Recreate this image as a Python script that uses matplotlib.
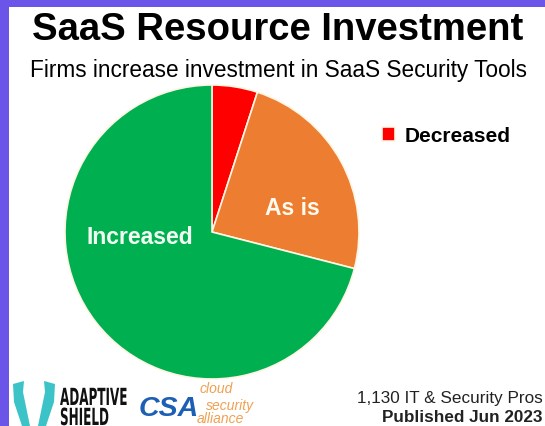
import numpy as np
import matplotlib
matplotlib.use('Agg')
import matplotlib.pyplot as plt
from matplotlib.patches import Rectangle, Polygon, PathPatch
from matplotlib.textpath import TextPath
from matplotlib.font_manager import FontProperties
from matplotlib.transforms import Affine2D

# Survey answers (share of respondents, %)
categories = ['Decreased', 'As is', 'Increased']
shares = [5, 24, 71]
colors = ['#ff0000', '#ed7d31', '#00b050']

plt.rcParams['font.family'] = ['Liberation Sans', 'DejaVu Sans']

W, H = 545, 426
fig = plt.figure(figsize=(W / 100, H / 100), dpi=100)
fig.patch.set_facecolor('white')

# purple frame on left and top edges
fig.add_artist(Rectangle((0, 0), 9 / W, 1, transform=fig.transFigure,
                         color='#6a55e8', lw=0))
fig.add_artist(Rectangle((0, 1 - 7 / H), 1, 7 / H, transform=fig.transFigure,
                         color='#6a55e8', lw=0))

# pie: centre (212, 232) px, radius 147 px
cx, cy, r = 212, 232, 147
ax = fig.add_axes([(cx - r) / W, (H - cy - r) / H, 2 * r / W, 2 * r / H])
wedges, _ = ax.pie(shares, colors=colors, startangle=90, counterclock=False,
                   wedgeprops=dict(edgecolor='#fdf6e3', linewidth=1.2))
ax.set_xlim(-1, 1)
ax.set_ylim(-1, 1)
ax.set_aspect('equal')

ax.text(0.55, 0.16, 'As is', color='#fffbee', fontsize=16.5, fontweight='bold',
        ha='center', va='center')
ax.text(-0.49, -0.04, 'Increased', color='#f4fff4', fontsize=16.5, fontweight='bold',
        ha='center', va='center')

fig.legend([wedges[0]], [categories[0]], loc='center left',
           bbox_to_anchor=(372 / W, 1 - 136 / H), frameon=False,
           prop=dict(size=15, weight='bold'), handlelength=0.62,
           handleheight=0.62, handletextpad=0.45, borderpad=0)

# titles
fig.text(278 / W, 1 - 30 / H, 'SaaS Resource Investment', ha='center', va='center',
         fontsize=27.5, fontweight='bold', color='black')
fig.text(278 / W, 1 - 70 / H, 'Firms increase investment in SaaS Security Tools',
         ha='center', va='center', fontsize=16.3, color='black')

# footer
fig.text(543 / W, 1 - 398 / H, '1,130 IT & Security Pros', ha='right', va='center',
         fontsize=12.3, color='#222222')
fig.text(543 / W, 1 - 417 / H, 'Published Jun 2023', ha='right', va='center',
         fontsize=12.3, fontweight='bold', color='#222222')

# logos (approximate)
teal = '#3cc3c8'
lb = [(13, 384), (24, 381), (23, 392), (30, 426), (22, 426), (14, 402)]
rb = [(55, 384), (44, 381), (45, 392), (38, 426), (46, 426), (54, 402)]
for pts in (lb, rb):
    fig.add_artist(Polygon([(x / W, 1 - y / H) for x, y in pts],
                           transform=fig.transFigure, color=teal, lw=0))

bold_fp = FontProperties(family='DejaVu Sans', weight='bold')
for word, y0 in (('ADAPTIVE', 405), ('SHIELD', 425)):
    tp = TextPath((0, 0), word, size=20, prop=bold_fp)
    # squeeze the glyphs horizontally to look like a condensed logo face
    t = (Affine2D().scale(0.6, 1.18).scale(1 / W, 1 / H)
         .translate(60 / W, 1 - y0 / H) + fig.transFigure)
    fig.add_artist(PathPatch(tp, transform=t, color='#111111', lw=0))

fig.text(139 / W, 1 - 409 / H, 'CSA', fontsize=20.5, fontweight='bold',
         style='italic', va='center', ha='left', color='#1d5fb4')
fig.text(200 / W, 1 - 389 / H, 'cloud', fontsize=10, style='italic',
         va='center', ha='left', color='#f0a050')
fig.text(206 / W, 1 - 406 / H, 'security', fontsize=10, style='italic',
         va='center', ha='left', color='#f0a050')
fig.text(197 / W, 1 - 419 / H, 'alliance', fontsize=10, style='italic',
         va='center', ha='left', color='#f0a050')

fig.savefig('out.png', dpi=100)
